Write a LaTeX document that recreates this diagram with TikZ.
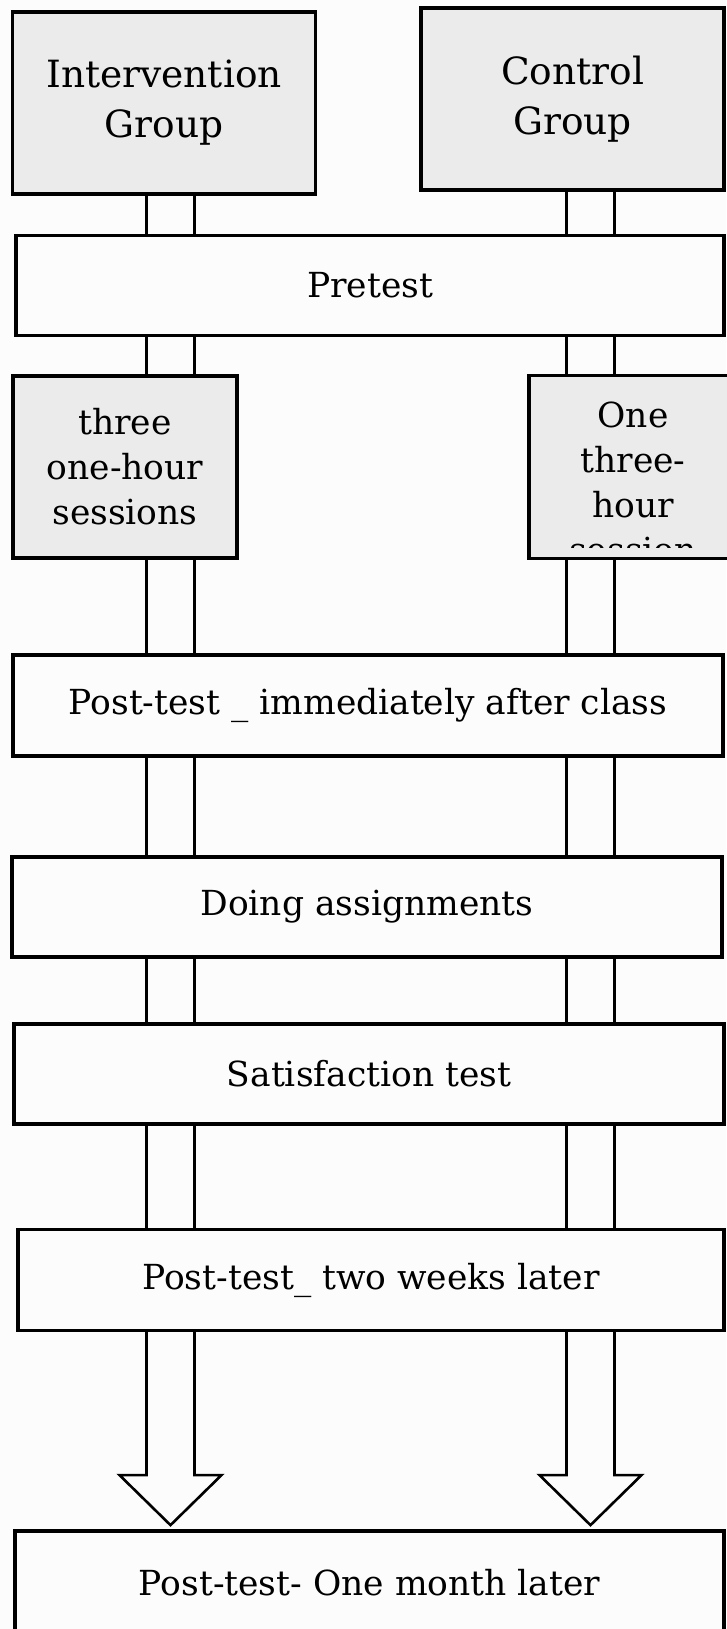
\documentclass[tikz,border=0pt]{standalone}
\usepackage{fontspec}
\setmainfont{DejaVu Serif}
\usetikzlibrary{calc}
\definecolor{boxgray}{RGB}{235,235,235}
\definecolor{paper}{RGB}{252,252,252}
\begin{document}
\begin{tikzpicture}[x=1pt,y=-1pt,
  box/.style={draw,line width=3.2pt,fill=paper,inner sep=0pt,align=center,font=\fontsize{34.5}{45}\selectfont},
  grp/.style={box,fill=boxgray,font=\fontsize{37.5}{50}\selectfont},
  sess/.style={box,fill=boxgray},
  txt/.style={inner sep=0pt,align=center,font=\fontsize{34.5}{45}\selectfont},
  lane/.style={line width=2.6pt}]
\fill[paper] (0,0) rectangle (726,1629);
\useasboundingbox (0,0) rectangle (726,1629);
% lanes
\coordinate (la) at (146.5,0);
\coordinate (lb) at (194.5,0);
\coordinate (ra) at (566.5,0);
\coordinate (rb) at (614.5,0);
% boxes
\node[grp,minimum width=303,minimum height=182] (intv) at (164,103) {Intervention\\Group};
\node[grp,minimum width=303,minimum height=182] (ctrl) at (572.5,99) {Control\\Group};
\node[box,minimum width=708,minimum height=100] (pre) at (370,285.5) {Pretest};
\node[sess,minimum width=224,minimum height=182] (sessL) at (125,467) {three\\one-hour\\sessions};
\node[sess,minimum width=208,minimum height=183] (sessR) at (633,467) {};
\begin{scope}
\clip (sessR.north west) rectangle ($(sessR.south east)+(0,-13)$);
\node[txt,anchor=north] (sessRtext) at ($(sessR.north)+(0,28)$) {One\\three-\\hour\\session};
\end{scope}
\node[box,minimum width=710,minimum height=101] (postI) at (368,705.5) {Post-test \_ immediately after class};
\node[box,minimum width=710,minimum height=100] (doing) at (367,907) {Doing assignments};
\node[box,minimum width=710,minimum height=100] (satis) at (369,1074) {Satisfaction test};
\node[box,minimum width=706,minimum height=101] (twoW) at (371,1280) {Post-test\_ two weeks later};
\node[box,minimum width=709,minimum height=104] (month) at (369.5,1583) {Post-test- One month later};
% double lines
\foreach \a/\b/\s in {intv/pre/l,ctrl/pre/r,pre/sessL/l,pre/sessR/r,sessL/postI/l,sessR/postI/r,
  postI/doing/l,postI/doing/r,doing/satis/l,doing/satis/r,satis/twoW/l,satis/twoW/r}
  \foreach \k in {a,b}
    \draw[lane] (\a.south -| \s\k) -- (\b.north -| \s\k);
% hollow arrows
\foreach \s in {l,r}
  \draw[lane,line join=miter] (twoW.south -| \s a) -- ++(0,143) -- ++(-27,0) -- ++(51,50)
    -- ++(51,-50) -- ++(-27,0) -- (twoW.south -| \s b);
\end{tikzpicture}
\end{document}
